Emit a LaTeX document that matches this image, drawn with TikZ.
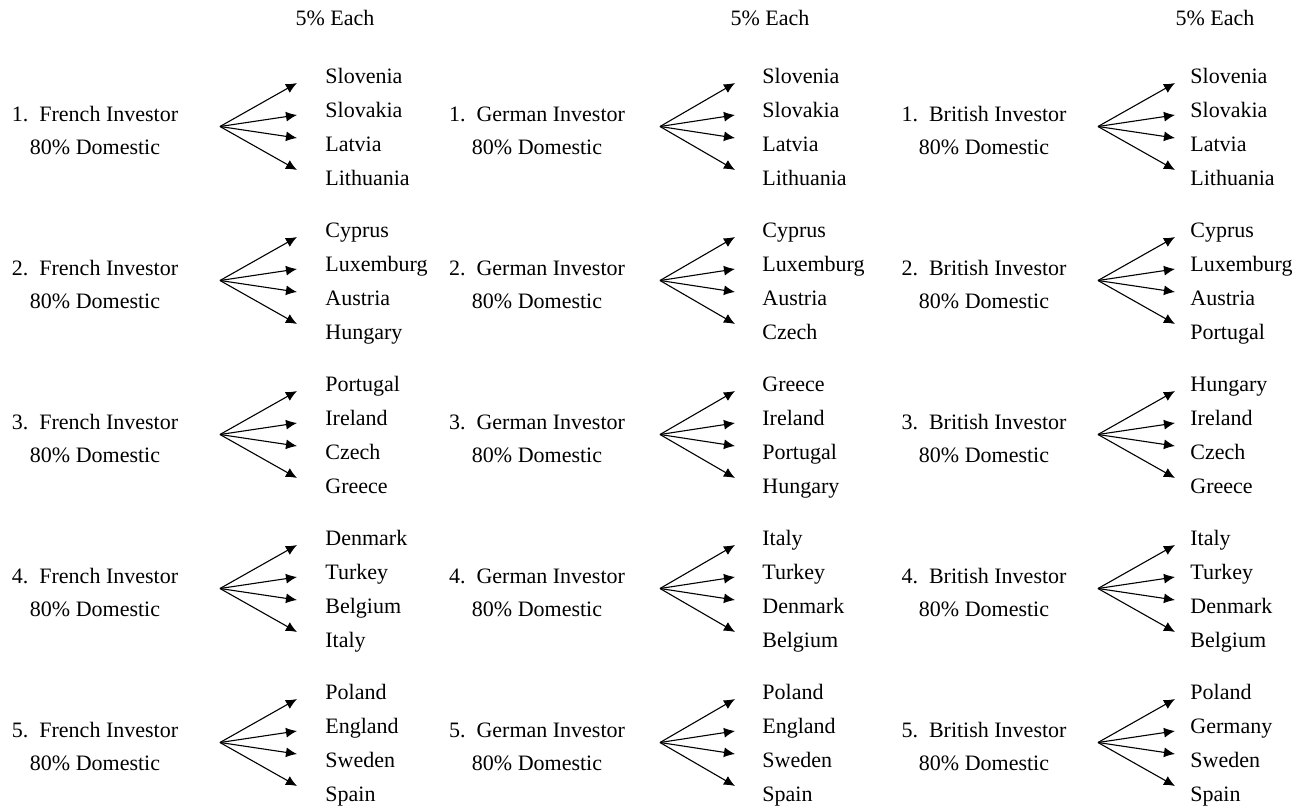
\documentclass[tikz,border=0pt]{standalone}
\usepackage{fontspec}
\setmainfont{Liberation Serif}
\usetikzlibrary{arrows.meta}
\tikzset{
  investor/.style={align=center, inner sep=0pt, font=\fontsize{11}{16.5}\selectfont},
  country/.style={anchor=west, inner sep=0pt, text height=8pt, text depth=2.5pt,
    font=\fontsize{11}{13}\selectfont},
  share/.style={inner sep=0pt, font=\fontsize{11}{13}\selectfont},
  fan/.style={-{Latex[length=5.5pt,width=5pt]}, line width=0.55pt},
}
\begin{document}
\begin{tikzpicture}[x=0.5pt, y=-0.5pt]
  \useasboundingbox (0,0) rectangle (1297,809);

  % Headings over the three country columns
  \node[share] (each1) at (335,18) {5\% Each};
  \node[share] (each2) at (770,18) {5\% Each};
  \node[share] (each3) at (1215,18) {5\% Each};

  % Column 1: French investors
  \begin{scope}
    \foreach \r/\ca/\cb/\cc/\cd in {1/Slovenia/Slovakia/Latvia/Lithuania,
        2/Cyprus/Luxemburg/Austria/Hungary, 3/Portugal/Ireland/Czech/Greece,
        4/Denmark/Turkey/Belgium/Italy, 5/Poland/England/Sweden/Spain} {
      \pgfmathsetmacro{\yy}{(\r-1)*154}
      \node[investor] (fr\r) at (95,130.5+\yy) {\r.\ \ French Investor\\80\% Domestic};
      \coordinate (fr\r-o) at (220,126.5+\yy);
      \node[country] (fr\r-ca) at (325,78+\yy) {\ca};
      \node[country] (fr\r-cb) at (325,112+\yy) {\cb};
      \node[country] (fr\r-cc) at (325,146+\yy) {\cc};
      \node[country] (fr\r-cd) at (325,180+\yy) {\cd};
      \foreach \k/\dy in {a/-43.5, b/-11.5, c/11.5, d/43.5} {
        \coordinate (fr\r-t\k) at (297,126.5+\yy+\dy);
        \draw[fan] (fr\r-o) -- (fr\r-t\k);
      }
    }
  \end{scope}

  % Column 2: German investors
  \begin{scope}
    \foreach \r/\ca/\cb/\cc/\cd in {1/Slovenia/Slovakia/Latvia/Lithuania,
        2/Cyprus/Luxemburg/Austria/Czech, 3/Greece/Ireland/Portugal/Hungary,
        4/Italy/Turkey/Denmark/Belgium, 5/Poland/England/Sweden/Spain} {
      \pgfmathsetmacro{\yy}{(\r-1)*154}
      \node[investor] (de\r) at (537,130.5+\yy) {\r.\ \ German Investor\\80\% Domestic};
      \coordinate (de\r-o) at (660,126.5+\yy);
      \node[country] (de\r-ca) at (762,78+\yy) {\ca};
      \node[country] (de\r-cb) at (762,112+\yy) {\cb};
      \node[country] (de\r-cc) at (762,146+\yy) {\cc};
      \node[country] (de\r-cd) at (762,180+\yy) {\cd};
      \foreach \k/\dy in {a/-43.5, b/-11.5, c/11.5, d/43.5} {
        \coordinate (de\r-t\k) at (735,126.5+\yy+\dy);
        \draw[fan] (de\r-o) -- (de\r-t\k);
      }
    }
  \end{scope}

  % Column 3: British investors
  \begin{scope}
    \foreach \r/\ca/\cb/\cc/\cd in {1/Slovenia/Slovakia/Latvia/Lithuania,
        2/Cyprus/Luxemburg/Austria/Portugal, 3/Hungary/Ireland/Czech/Greece,
        4/Italy/Turkey/Denmark/Belgium, 5/Poland/Germany/Sweden/Spain} {
      \pgfmathsetmacro{\yy}{(\r-1)*154}
      \node[investor] (gb\r) at (984,130.5+\yy) {\r.\ \ British Investor\\80\% Domestic};
      \coordinate (gb\r-o) at (1098,126.5+\yy);
      \node[country] (gb\r-ca) at (1190,78+\yy) {\ca};
      \node[country] (gb\r-cb) at (1190,112+\yy) {\cb};
      \node[country] (gb\r-cc) at (1190,146+\yy) {\cc};
      \node[country] (gb\r-cd) at (1190,180+\yy) {\cd};
      \foreach \k/\dy in {a/-43.5, b/-11.5, c/11.5, d/43.5} {
        \coordinate (gb\r-t\k) at (1175,126.5+\yy+\dy);
        \draw[fan] (gb\r-o) -- (gb\r-t\k);
      }
    }
  \end{scope}
\end{tikzpicture}
\end{document}
